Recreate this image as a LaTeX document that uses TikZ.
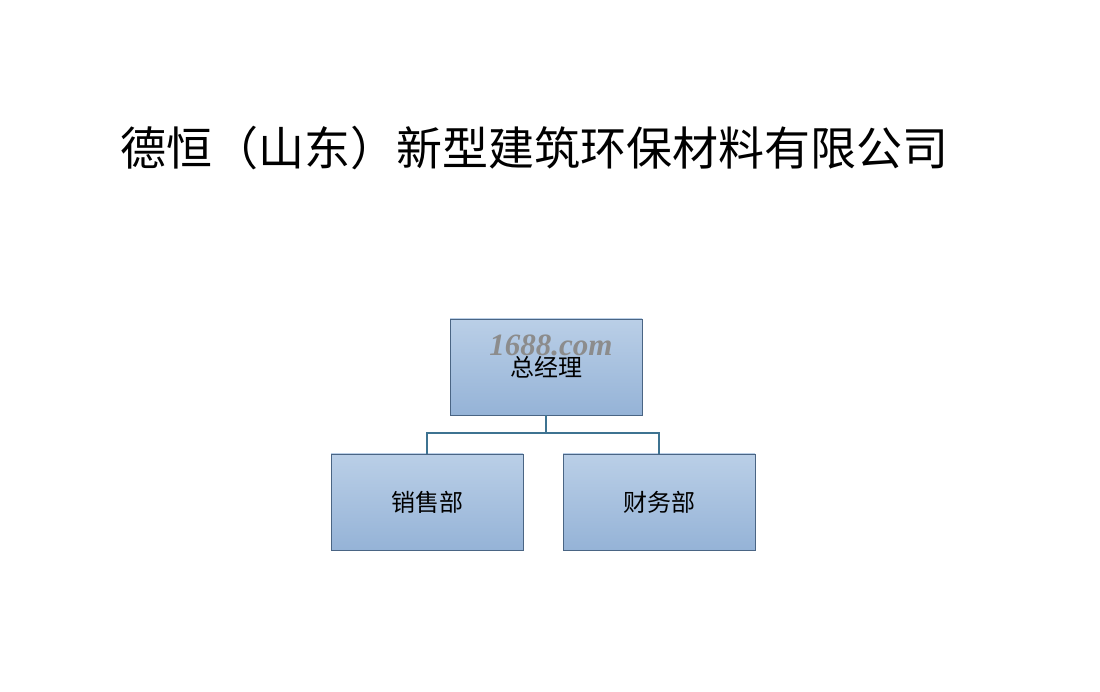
\documentclass[tikz,border=0pt]{standalone}
\usepackage{fontspec}
\usepackage{tikz}
\usetikzlibrary{positioning,shadows}
\newfontfamily\cjk{Noto Sans CJK SC}
\setmainfont{Liberation Serif}
\definecolor{DHBoxTop}{HTML}{BACFE7}
\definecolor{DHBoxBot}{HTML}{95B3D7}
\definecolor{DHEdge}{HTML}{4A6584}
\definecolor{DHLine}{HTML}{3E7391}
\definecolor{DHMark}{HTML}{8C8C8C}

\begin{document}
\begin{tikzpicture}[
  x=1pt,
  y=1pt,
  unit/.style={
    rectangle,
    draw=DHEdge,
    line width=0.9pt,
    top color=DHBoxTop,
    bottom color=DHBoxBot,
    minimum width=192pt,
    minimum height=96pt,
    inner sep=0pt,
    font=\cjk\fontsize{24}{27}\selectfont
  },
  title/.style={
    inner sep=0pt,
    font=\cjk\fontsize{46}{50}\selectfont
  },
  watermark/.style={
    text=DHMark,
    inner sep=0pt,
    font=\bfseries\itshape\fontsize{31}{33}\selectfont
  },
  link/.style={draw=DHLine, line width=1.3pt},
]
\useasboundingbox (0,0) rectangle (1100,692);

\node[title] (company) at (534,544) {德恒（山东）新型建筑环保材料有限公司};

\node[unit] (gm) at (546,325) {总经理};
\node[unit] (sales) at (427,190) {销售部};
\node[unit] (finance) at (659,190) {财务部};

\node[watermark] (mark) at (551,347) {1688.com};

\coordinate (bar) at (546,259);
\draw[link] (gm.south) -- (bar);
\draw[link] (bar) -| (sales.north);
\draw[link] (bar) -| (finance.north);
\end{tikzpicture}
\end{document}
